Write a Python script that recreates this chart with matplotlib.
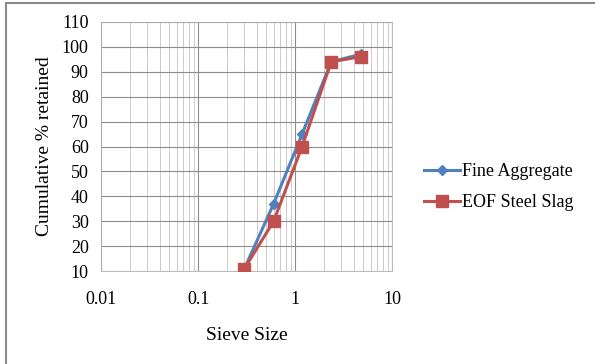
import matplotlib.pyplot as plt
from matplotlib.patches import Rectangle
from matplotlib.ticker import LogLocator, NullFormatter, FixedLocator

plt.rcParams['font.family'] = ['Liberation Serif', 'DejaVu Serif']

sieve = [0.3, 0.6, 1.18, 2.36, 4.75]
fine_agg = [11, 37, 65, 94, 97]
steel_slag = [11, 30, 60, 94, 96]

x_ticks = [0.01, 0.1, 1, 10]
x_labels = ['0.01', '0.1', '1', '10']

fig = plt.figure(figsize=(5.95, 3.64), dpi=100)
fig.patch.set_facecolor('white')
# chart frame (left and top edges show)
fig.patches.append(Rectangle((6 / 595, -0.05), 1.2, 1 - 3 / 364 + 0.05,
                             transform=fig.transFigure, fill=False,
                             edgecolor='#8a8a8a', linewidth=1.5))

ax = fig.add_axes([0.170, 0.255, 0.489, 0.685])
ax.set_xscale('log')
ax.set_xlim(0.01, 10)
ax.set_ylim(10, 110)

ax.plot(sieve, fine_agg, color='#4F81BD', marker='D', markersize=5,
        linewidth=2.2, label='Fine Aggregate', zorder=3)
ax.plot(sieve, steel_slag, color='#C0504D', marker='s', markersize=9,
        linewidth=2.2, label='EOF Steel Slag', zorder=3)

ax.xaxis.set_major_locator(FixedLocator(x_ticks))
ax.set_xticklabels(x_labels)
ax.xaxis.set_minor_locator(LogLocator(base=10, subs=range(2, 10)))
ax.xaxis.set_minor_formatter(NullFormatter())
ax.set_yticks(range(10, 111, 10))

ax.grid(True, which='major', color='#8c8c8c', linewidth=0.8)
ax.grid(True, which='minor', axis='x', color='#c4c4c4', linewidth=0.6)
ax.set_axisbelow(True)
for s in ax.spines.values():
    s.set_color('#b0b0b0')
    s.set_linewidth(0.6)
ax.tick_params(which='both', length=0, labelsize=13)
ax.tick_params(axis='x', pad=14)
ax.tick_params(axis='y', pad=9)

ax.set_xlabel('Sieve Size', fontsize=14, labelpad=14)
ax.set_ylabel('Cumulative % retained', fontsize=14, labelpad=6)

ax.legend(loc='center left', bbox_to_anchor=(0.685, 0.486),
          bbox_transform=fig.transFigure, frameon=False, fontsize=13,
          handlelength=2.0, handletextpad=0.1, labelspacing=0.8)

fig.savefig('out.png', dpi=100)
